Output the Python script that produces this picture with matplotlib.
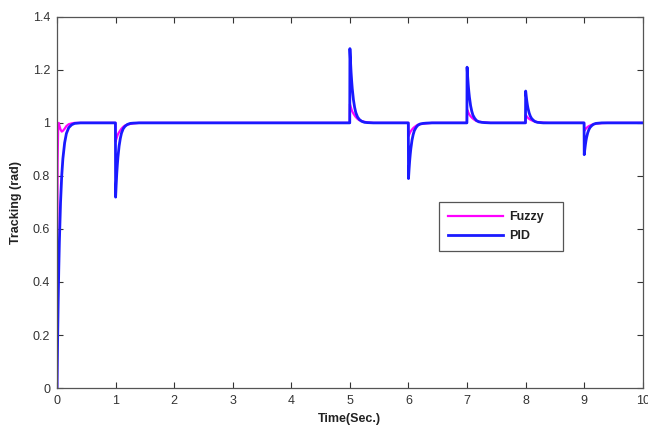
import matplotlib
matplotlib.use("Agg")
import matplotlib.pyplot as plt
import numpy as np

plt.rcParams['font.family'] = ['Liberation Sans', 'DejaVu Sans']

# Start-up response (time in seconds, tracking in rad)
rise_time = [0, 0.005, 0.01, 0.02, 0.03, 0.04, 0.06, 0.08, 0.10, 0.13, 0.16, 0.20, 0.25, 0.30, 0.40]
pid_rise = [0, 0.10, 0.18, 0.33, 0.45, 0.55, 0.70, 0.80, 0.865, 0.925, 0.96, 0.982, 0.993, 0.998, 1.0]
fuzzy_rise = [0, 0.50, 0.85, 0.99, 1.0, 0.99, 0.975, 0.967, 0.97, 0.978, 0.988, 0.995, 0.998, 1.0, 1.0]

# Load disturbances and the recovery after each one
event_times = [1, 5, 6, 7, 8, 9]
recovery_offsets = [0, 0.01, 0.02, 0.03, 0.04, 0.06, 0.08, 0.10, 0.13, 0.16, 0.20, 0.25, 0.30, 0.40]

pid_events = [
    [0.72, 0.768, 0.810, 0.843, 0.871, 0.913, 0.941, 0.961, 0.978, 0.987, 0.994, 0.998, 0.999, 1.0],
    [1.28, 1.232, 1.190, 1.157, 1.129, 1.087, 1.059, 1.039, 1.022, 1.013, 1.006, 1.002, 1.001, 1.0],
    [0.79, 0.826, 0.857, 0.882, 0.903, 0.935, 0.956, 0.971, 0.983, 0.991, 0.996, 0.998, 0.999, 1.0],
    [1.21, 1.174, 1.143, 1.118, 1.097, 1.065, 1.044, 1.029, 1.017, 1.009, 1.004, 1.002, 1.001, 1.0],
    [1.12, 1.100, 1.082, 1.067, 1.055, 1.037, 1.025, 1.017, 1.010, 1.005, 1.002, 1.001, 1.0, 1.0],
    [0.88, 0.900, 0.918, 0.933, 0.945, 0.963, 0.975, 0.983, 0.990, 0.995, 0.998, 0.999, 1.0, 1.0],
]
fuzzy_events = [
    [0.93, 0.937, 0.944, 0.951, 0.957, 0.965, 0.972, 0.978, 0.985, 0.990, 0.993, 0.996, 0.998, 1.0],
    [1.07, 1.063, 1.056, 1.049, 1.043, 1.035, 1.028, 1.022, 1.015, 1.010, 1.007, 1.004, 1.002, 1.0],
    [0.95, 0.955, 0.960, 0.965, 0.969, 0.975, 0.980, 0.984, 0.989, 0.993, 0.995, 0.997, 0.998, 1.0],
    [1.05, 1.045, 1.040, 1.035, 1.031, 1.025, 1.020, 1.016, 1.011, 1.007, 1.005, 1.003, 1.002, 1.0],
    [1.03, 1.027, 1.024, 1.021, 1.019, 1.015, 1.012, 1.010, 1.007, 1.005, 1.003, 1.002, 1.001, 1.0],
    [0.97, 0.973, 0.976, 0.979, 0.981, 0.985, 0.988, 0.990, 0.993, 0.995, 0.997, 0.998, 0.999, 1.0],
]
t_end = 10
setpoint = 1.0


def build_series(rise_vals, event_vals):
    t = list(rise_time)
    y = list(rise_vals)
    for te, vals in zip(event_times, event_vals):
        t.append(te - 0.003)
        y.append(setpoint)
        t.extend(te + np.array(recovery_offsets))
        y.extend(vals)
    t.append(t_end)
    y.append(setpoint)
    return np.array(t), np.array(y)


t_fz, y_fz = build_series(fuzzy_rise, fuzzy_events)
t_pid, y_pid = build_series(pid_rise, pid_events)

fig = plt.figure(figsize=(6.48, 4.42), dpi=100)
ax = fig.add_axes([0.088, 0.122, 0.904, 0.840])

ax.plot(t_fz, y_fz, color='#ff00ff', lw=1.6, label='Fuzzy')
ax.plot(t_pid, y_pid, color='#1a1aff', lw=2.0, label='PID')

ax.set_xlim(0, 10)
ax.set_ylim(0, 1.4)
ax.set_xticks(range(0, 11))
ax.set_yticks([0, 0.2, 0.4, 0.6, 0.8, 1, 1.2, 1.4])
ax.set_yticklabels(['0', '0.2', '0.4', '0.6', '0.8', '1', '1.2', '1.4'])
ax.tick_params(direction='in', top=True, right=True, length=4, width=0.8,
               labelsize=9, colors='#333333', pad=5)
for s in ax.spines.values():
    s.set_color('#555555')
    s.set_linewidth(0.9)

ax.set_xlabel('Time(Sec.)', fontsize=9, fontweight='bold', color='#222222', labelpad=4)
ax.set_ylabel('Tracking (rad)', fontsize=9, fontweight='bold', color='#222222', labelpad=8)

leg = ax.legend(loc='upper left', bbox_to_anchor=(0.642, 0.367, 0.232, 0.15),
                mode='expand', fontsize=9,
                fancybox=False, edgecolor='#555555', framealpha=1,
                handlelength=4.4, handletextpad=0.5, borderpad=0.7, labelspacing=0.55)
leg.get_frame().set_linewidth(0.9)
for txt in leg.get_texts():
    txt.set_fontweight('bold')
    txt.set_color('#222222')

fig.savefig('out.png', dpi=100)
